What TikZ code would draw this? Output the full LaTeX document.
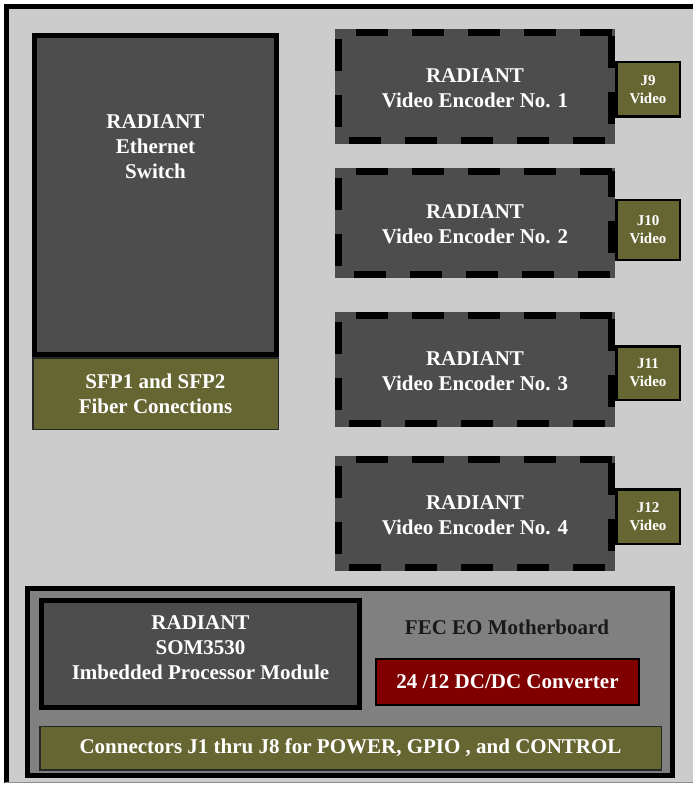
\documentclass[tikz,border=0pt]{standalone}
\usepackage{fontspec}
\setmainfont{Liberation Serif}
\definecolor{panel}{HTML}{CCCCCC}
\definecolor{module}{HTML}{4D4D4D}
\definecolor{board}{HTML}{808080}
\definecolor{olive}{HTML}{666633}
\definecolor{dcred}{HTML}{800000}
\begin{document}
\begin{tikzpicture}[x=1pt, y=-1pt,
          txt/.style ={text=white, font=\bfseries\fontsize{21}{25}\selectfont, align=center, inner sep=0pt},
          box/.style ={txt, fill=module},
          thick box/.style ={box, draw=black, line width=5pt},
          plug/.style ={txt, fill=olive, draw=black!85, line width=1.5pt},
          small plug/.style ={plug, draw=black, line width=2.5pt, font=\bfseries\fontsize{15}{18}\selectfont},
          dashes/.style ={line width=7pt, dash pattern=on 32pt off 24pt}
          ]
\useasboundingbox (0,0) rectangle (693,786);

% panel
\fill[panel] (5,5) rectangle (693,783);
\draw[line width=4.5pt] (6.5,783) -- (6.5,6.5) -- (693,6.5);
\draw[black!45, line width=1.5pt] (5,782.5) -- (693,782.5);

% ethernet switch
\node[thick box, minimum width=242, minimum height=319] (switch) at (155.5,195) {};
\node[txt] (switchname) at (155.5,147) {RADIANT\\Ethernet\\Switch};
\node[plug, minimum width=245.5, minimum height=71.5] (sfp) at (155.5,393.5) {SFP1 and SFP2\\Fiber Conections};

% video encoders
\foreach \n/\top/\bot/\jtop/\jbot/\j in {1/29/144/61/118/9, 2/168/278/199/261/10,
                                        3/312/427/345/401/11, 4/456/571/488/545/12}{
\pgfmathsetmacro{\mid}{(\top+\bot)/2}
\pgfmathsetmacro{\high}{\bot-\top}
\pgfmathsetmacro{\jmid}{(\jtop+\jbot)/2}
\pgfmathsetmacro{\jhigh}{\jbot-\jtop-2.5}
\node[box, minimum width=280, minimum height=\high] (enc\n) at (475,\mid) {};
\node[txt] (encname\n) at (475,\mid+1.5) {RADIANT\\Video Encoder No. \n};
\draw[dashes] ([shift={(-3.5,3.5)}]enc\n.north east) -- ([shift={(3.5,3.5)}]enc\n.north west)
   -- ([shift={(3.5,-3.5)}]enc\n.south west) -- ([shift={(-3.5,-3.5)}]enc\n.south east)
   -- ([shift={(-3.5,3.5)}]enc\n.north east);
\node[small plug, minimum width=63.5, minimum height=\jhigh] (vid\j) at (648,\jmid) {J\j\\Video};
}

% motherboard
\node[draw=black, line width=5pt, fill=board, minimum width=645, minimum height=187, inner sep=0pt] (mobo) at (350,682) {};
\node[thick box, minimum width=318, minimum height=107] (som) at (200.5,654) {};
\node[txt] (somname) at (200.5,648) {RADIANT\\SOM3530\\Imbedded Processor Module};
\node[txt, text=black!90] (mobolabel) at (507,627) {FEC EO Motherboard};
\node[txt, fill=dcred, draw=black, line width=2pt, minimum width=263, minimum height=46] (dcdc) at (507.5,682) {24 /12 DC/DC Converter};
\node[plug, minimum width=621.5, minimum height=43.5] (conn) at (350.5,748) {Connectors J1 thru J8 for POWER, GPIO , and CONTROL};
\end{tikzpicture}
\end{document}
